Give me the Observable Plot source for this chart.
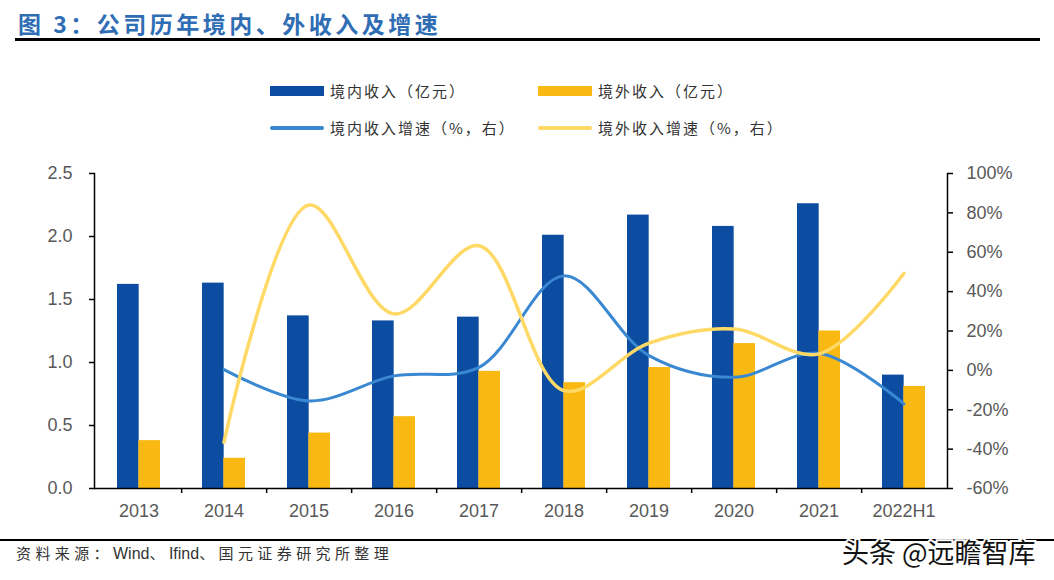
<!DOCTYPE html>
<html>
<head>
<meta charset="utf-8">
<script src="https://cdn.jsdelivr.net/npm/d3@7"></script>
<script src="https://cdn.jsdelivr.net/npm/@observablehq/plot@0.6"></script>
<style>
  html, body { margin: 0; padding: 0; background: #fff; }
  #page { position: relative; width: 1054px; height: 580px; overflow: hidden; background: #fff; font-family: "Noto Sans CJK SC", "Liberation Sans", sans-serif; }
  #title { position: absolute; left: 18px; top: 6px; font-size: 23px; font-weight: bold; color: #2f6db5; letter-spacing: 3.5px; white-space: nowrap; }
  #titleRule { position: absolute; left: 15px; top: 38px; width: 1025px; height: 3px; background: #000; }
  #bottomRule { position: absolute; left: 0px; top: 539px; width: 1054px; height: 1.5px; background: #000; }
  .leg { position: absolute; font-size: 15px; letter-spacing: 2px; color: #333; white-space: nowrap; display: flex; align-items: center; }
  .sw { display: inline-block; width: 54px; margin-right: 6px; }
  #source { position: absolute; left: 16px; top: 542px; font-size: 15px; letter-spacing: 4.4px; color: #333; white-space: nowrap; }
  #source .lat { font-family: "Liberation Sans", Arial, sans-serif; font-size: 16px; letter-spacing: 0; }
  #wm { position: absolute; left: 842px; top: 532px; font-size: 27px; color: #111; white-space: nowrap; -webkit-text-stroke: 4px #fff; paint-order: stroke fill; }
  #chart { position: absolute; left: 0; top: 150px; }
</style>
</head>
<body>
<div id="page">
  <div id="title">图 3：公司历年境内、外收入及增速</div>
  <div id="titleRule"></div>
  <div id="legend"></div>
  <div id="chart"></div>
  <div id="bottomRule"></div>
  <div id="source">资料来源：<span class="lat">Wind</span>、<span class="lat">Ifind</span>、国元证券研究所整理</div>
  <div id="wm">头条 @远瞻智库</div>
</div>
<script>
// ---- data ----
const years = ["2013","2014","2015","2016","2017","2018","2019","2020","2021","2022H1"];
const domesticRevenue = [1.62, 1.63, 1.37, 1.33, 1.36, 2.01, 2.17, 2.08, 2.26, 0.90];
const overseasRevenue = [0.38, 0.24, 0.44, 0.57, 0.93, 0.84, 0.96, 1.15, 1.25, 0.81];
const domesticGrowth = [null, 0.4, -15.5, -2.8, 1.5, 48, 7.5, -3.5, 8.7, -17];
const overseasGrowth = [null, -36.5, 84, 28.7, 63.3, -10.3, 13.8, 21, 8.4, 49.3];
const leftTicks = [0, 0.5, 1.0, 1.5, 2.0, 2.5];
const rightTicks = [-60, -40, -20, 0, 20, 40, 60, 80, 100];
const seriesNames = ["境内收入（亿元）", "境外收入（亿元）", "境内收入增速（%，右）", "境外收入增速（%，右）"];
const colors = ["#0c4da2", "#f9b912", "#3a88d2", "#ffd966"];

// ---- legend ----
const legendItems = [
  {name: seriesNames[0], color: colors[0], type: "bar", left: 270, top: 80},
  {name: seriesNames[1], color: colors[1], type: "bar", left: 538, top: 80},
  {name: seriesNames[2], color: colors[2], type: "line", left: 270, top: 117},
  {name: seriesNames[3], color: colors[3], type: "line", left: 538, top: 117}
];
const legend = document.getElementById("legend");
for (const it of legendItems) {
  const d = document.createElement("div");
  d.className = "leg";
  d.style.left = it.left + "px";
  d.style.top = it.top + "px";
  const sw = document.createElement("span");
  sw.className = "sw";
  sw.style.background = it.color;
  sw.style.height = it.type === "bar" ? "10px" : "4px";
  sw.style.borderRadius = it.type === "bar" ? "0" : "2px";
  d.appendChild(sw);
  d.appendChild(document.createTextNode(it.name));
  legend.appendChild(d);
}

// ---- chart ----
const W = 1054, H = 380;
const mL = 94, mR = 107, mT = 23, mB = 42;
const yMax = 2.5;
const pMin = -60, pMax = 100;
const toLeft = p => (p - pMin) / (pMax - pMin) * yMax;
const fromLeft = v => v / yMax * (pMax - pMin) + pMin;

const rows = years.map((y, i) => ({year: y, dom: domesticRevenue[i], ovs: overseasRevenue[i], dg: domesticGrowth[i], og: overseasGrowth[i]}));
const step = (W - mL - mR) / years.length;
const half = step * 0.5 / 2;

const labelStyle = {fontSize: 18, fill: "#595959", fontFamily: "Liberation Sans, Arial, sans-serif"};

const chart = Plot.plot({
  width: W, height: H,
  marginLeft: mL, marginRight: mR, marginTop: mT, marginBottom: mB,
  style: {fontFamily: "Liberation Sans, Arial, sans-serif", background: "transparent", overflow: "visible"},
  x: {domain: years, type: "band", paddingInner: 0.5, paddingOuter: 0.25, axis: null},
  y: {domain: [0, yMax], axis: null},
  marks: [
    Plot.barY(rows, {x: "year", y: "dom", fill: colors[0], insetRight: half}),
    Plot.barY(rows, {x: "year", y: "ovs", fill: colors[1], insetLeft: half}),
    Plot.line(rows.filter(d => d.dg != null), {x: "year", y: d => toLeft(d.dg), stroke: colors[2], strokeWidth: 3, curve: "catmull-rom"}),
    Plot.line(rows.filter(d => d.og != null), {x: "year", y: d => toLeft(d.og), stroke: colors[3], strokeWidth: 3.5, curve: "catmull-rom"}),
    // axis lines
    Plot.ruleY([0], {stroke: "#000", strokeWidth: 1.5}),
    Plot.frame({anchor: "left", stroke: "#000", strokeWidth: 1.5}),
    Plot.frame({anchor: "right", stroke: "#000", strokeWidth: 1.5}),
    // left axis
    Plot.axisY({anchor: "left", ticks: leftTicks, tickSize: 5, tickPadding: 17, tickFormat: d3.format(".1f"), stroke: "#000", strokeWidth: 1.5, ...labelStyle, label: null}),
    // right axis
    Plot.axisY({anchor: "right", ticks: rightTicks.map(toLeft), tickSize: 5, tickPadding: 14, tickFormat: v => Math.round(fromLeft(v)) + "%", stroke: "#000", strokeWidth: 1.5, textAnchor: "start", ...labelStyle, label: null}),
    // x axis: boundary ticks
    Plot.axisX({ticks: years.slice(0, -1), tickSize: 5, text: null, dx: step / 2, stroke: "#000", strokeWidth: 1.5, label: null}),
    // x axis labels
    Plot.axisX({ticks: years, tickSize: 0, tickPadding: 16, ...labelStyle, label: null})
  ]
});
document.getElementById("chart").appendChild(chart);
</script>
</body>
</html>
